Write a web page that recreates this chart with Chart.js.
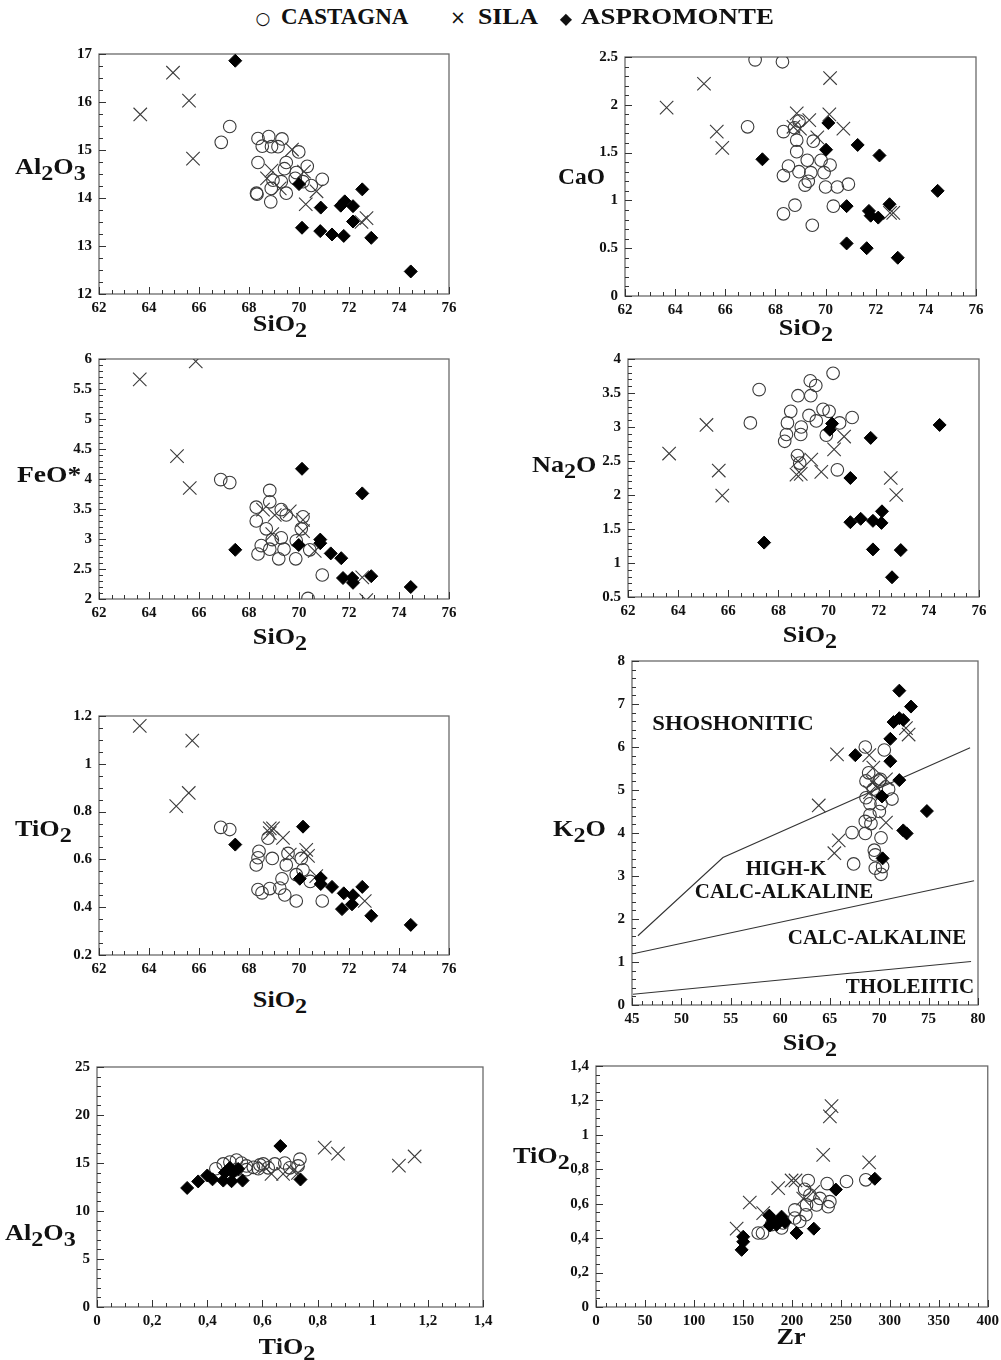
<!DOCTYPE html>
<html>
<head>
<meta charset="utf-8">
<script src="https://cdn.jsdelivr.net/npm/chart.js@4/dist/chart.umd.min.js"></script>
<style>
  html,body{margin:0;padding:0;background:#fff;}
  #page{position:relative;width:1001px;height:1360px;overflow:hidden;background:#fff;
        font-family:'Liberation Serif','Times New Roman',serif;color:#111;}
  .box{position:absolute;}
  .t{position:absolute;font-weight:bold;font-size:23px;white-space:nowrap;line-height:1;}
  .t sub{font-size:0.92em;vertical-align:-0.3em;line-height:0;}
  .lg{position:absolute;font-weight:bold;font-size:23px;white-space:nowrap;line-height:1;}
  .reg{position:absolute;font-weight:bold;font-size:21px;white-space:nowrap;line-height:1;transform:translate(-50%,-50%);}
</style>
</head>
<body>
<div id="page"></div>
<script>
// ---------------- DATA ----------------
const seriesNames = ['CASTAGNA', 'SILA', 'ASPROMONTE'];

// Panel 1: SiO2 vs Al2O3
const p1Castagna = [[66.89,15.16],[67.23,15.49],[68.36,15.24],[68.79,15.28],[69.32,15.23],[68.53,15.08],[68.9,15.07],[69.16,15.07],[69.99,14.96],[68.36,14.74],[69.49,14.74],[69.42,14.61],[69.89,14.53],[70.33,14.66],[68.96,14.37],[69.29,14.34],[69.85,14.41],[70.16,14.34],[70.49,14.26],[70.93,14.39],[68.32,14.08],[68.3,14.1],[68.89,14.2],[69.49,14.1],[68.87,13.92]];
const p1Sila = [[63.65,15.74],[64.96,16.61],[65.6,16.03],[65.76,14.82],[69.72,15.01],[68.9,14.57],[68.72,14.41],[69.23,14.2],[70.2,14.55],[70.7,14.14],[70.27,13.87],[72.7,13.58],[72.5,13.5]];
const p1Aspromonte = [[67.45,16.86],[70.0,14.29],[72.53,14.18],[70.87,13.8],[70.12,13.38],[70.85,13.31],[71.32,13.24],[71.79,13.21],[72.89,13.17],[71.67,13.84],[71.83,13.93],[72.16,13.83],[72.16,13.51],[74.47,12.47]];

// Panel 2: SiO2 vs CaO
const p2Castagna = [[67.19,2.47],[68.28,2.45],[66.89,1.77],[68.32,1.72],[68.76,1.76],[68.94,1.83],[68.85,1.63],[69.51,1.62],[68.85,1.51],[68.52,1.36],[69.27,1.42],[69.82,1.42],[70.18,1.37],[68.94,1.30],[69.41,1.29],[69.94,1.29],[68.32,1.26],[69.31,1.20],[69.18,1.16],[70.0,1.14],[70.47,1.14],[70.91,1.17],[70.31,0.94],[68.78,0.95],[68.32,0.86],[69.47,0.74]];
const p2Sila = [[63.66,1.97],[65.15,2.22],[65.66,1.72],[65.88,1.55],[70.18,2.28],[68.85,1.91],[70.15,1.90],[69.35,1.84],[68.98,1.75],[68.72,1.77],[69.67,1.66],[70.71,1.75],[72.57,0.87],[72.7,0.87]];
const p2Aspromonte = [[67.48,1.43],[70.11,1.81],[70.02,1.53],[71.28,1.58],[72.15,1.47],[70.84,0.94],[71.73,0.89],[71.8,0.84],[72.1,0.82],[72.55,0.96],[70.84,0.55],[71.64,0.50],[72.88,0.40],[74.47,1.10]];

// Panel 3: SiO2 vs FeO*
const p3Castagna = [[66.87,3.99],[67.23,3.94],[68.83,3.81],[68.83,3.62],[68.29,3.53],[69.29,3.49],[69.49,3.40],[70.16,3.37],[68.29,3.30],[68.69,3.17],[70.09,3.17],[69.29,3.02],[68.93,2.99],[69.89,2.97],[68.49,2.89],[68.36,2.75],[68.83,2.83],[69.4,2.83],[69.19,2.67],[69.87,2.67],[70.43,2.82],[70.93,2.40],[70.36,2.01]];
const p3Sila = [[63.63,5.66],[65.87,5.96],[65.12,4.38],[65.63,3.85],[68.56,3.49],[69.03,3.40],[69.63,3.46],[70.16,3.32],[70.16,3.13],[68.93,3.08],[70.63,2.80],[72.53,2.36],[72.69,1.98]];
const p3Aspromonte = [[70.12,4.17],[72.53,3.76],[67.45,2.82],[69.99,2.90],[70.85,2.99],[70.85,2.93],[71.27,2.76],[71.69,2.68],[71.76,2.35],[72.13,2.35],[72.16,2.27],[72.89,2.38],[74.47,2.20]];

// Panel 4: SiO2 vs Na2O
const p4Castagna = [[67.23,3.55],[66.88,3.06],[70.18,3.79],[69.27,3.68],[69.49,3.61],[68.78,3.46],[69.29,3.46],[68.49,3.23],[69.78,3.26],[70.02,3.23],[69.22,3.17],[69.51,3.09],[70.94,3.14],[70.44,3.06],[68.36,3.06],[68.91,3.0],[68.89,2.89],[69.91,2.88],[68.32,2.89],[68.25,2.79],[68.76,2.58],[68.85,2.47],[70.35,2.37]];
const p4Sila = [[63.64,2.61],[65.13,3.03],[65.62,2.36],[65.76,1.99],[68.72,2.30],[68.89,2.31],[68.78,2.50],[69.31,2.52],[69.71,2.34],[70.22,2.67],[70.62,2.86],[72.48,2.25],[72.7,2.0]];
const p4Aspromonte = [[74.43,3.03],[70.05,2.96],[70.14,3.05],[71.68,2.84],[70.87,2.25],[70.87,1.60],[71.28,1.65],[71.77,1.62],[72.13,1.76],[72.11,1.59],[71.77,1.20],[72.88,1.19],[72.53,0.79],[67.43,1.30]];

// Panel 5: SiO2 vs TiO2
const p5Castagna = [[66.87,0.734],[67.23,0.725],[68.76,0.689],[68.4,0.634],[68.36,0.607],[68.29,0.577],[68.93,0.604],[69.56,0.625],[69.49,0.577],[70.09,0.604],[70.16,0.556],[69.89,0.536],[69.32,0.519],[70.45,0.508],[68.83,0.478],[68.36,0.474],[68.52,0.46],[69.23,0.48],[69.43,0.451],[69.89,0.426],[70.93,0.426]];
const p5Sila = [[63.63,1.159],[65.73,1.097],[65.09,0.823],[65.59,0.878],[68.83,0.73],[68.96,0.73],[68.83,0.71],[69.36,0.69],[70.29,0.64],[70.36,0.615],[69.63,0.62],[70.69,0.53],[72.63,0.426]];
const p5Aspromonte = [[67.45,0.662],[70.16,0.737],[70.03,0.519],[70.87,0.522],[70.87,0.497],[71.32,0.485],[71.79,0.458],[72.16,0.45],[72.53,0.485],[71.72,0.392],[72.12,0.412],[72.89,0.364],[74.47,0.326]];

// Panel 6: SiO2 vs K2O
const p6Castagna = [[68.6,6.0],[70.52,5.93],[68.94,5.40],[70.12,5.25],[68.67,5.21],[70.02,5.21],[70.96,5.02],[69.41,5.02],[68.67,4.82],[71.3,4.79],[69.07,4.68],[70.19,4.68],[70.02,4.50],[69.07,4.42],[68.6,4.27],[69.17,4.22],[68.6,3.99],[67.26,4.01],[70.19,3.89],[69.51,3.60],[69.61,3.49],[67.42,3.28],[69.61,3.18],[70.35,3.22],[70.19,3.04]];
const p6Sila = [[65.74,5.83],[63.89,4.64],[65.91,3.83],[65.47,3.53],[69.0,5.81],[69.41,5.52],[69.34,5.18],[69.07,4.95],[69.78,5.06],[70.69,5.25],[70.69,4.24],[72.71,6.44],[72.98,6.29]];
const p6Aspromonte = [[72.04,7.31],[73.22,6.94],[71.46,6.58],[72.04,6.67],[72.44,6.63],[71.13,6.19],[71.13,5.67],[67.59,5.81],[72.04,5.23],[70.29,4.85],[74.83,4.51],[72.44,4.06],[72.78,3.99],[70.35,3.41]];
// classification boundaries (SiO2, K2O)
const boundShoshonitic = [[45.6,1.61],[54.2,3.43],[79.2,5.98]];
const boundHighK = [[45.1,1.19],[79.6,2.89]];
const boundTholeiitic = [[45.1,0.25],[79.3,1.01]];
const regionLabels = ['SHOSHONITIC', 'HIGH-K', 'CALC-ALKALINE', 'CALC-ALKALINE', 'THOLEIITIC'];

// Panel 7: TiO2 vs Al2O3
const p7Castagna = [[0.431,14.4],[0.458,14.9],[0.482,15.1],[0.506,15.3],[0.524,15.0],[0.542,14.7],[0.567,14.55],[0.585,14.4],[0.603,14.9],[0.621,14.5],[0.645,14.9],[0.681,15.0],[0.736,15.4],[0.729,14.7],[0.699,14.5],[0.542,14.3],[0.506,14.3],[0.591,14.8]];
const p7Sila = [[0.826,16.6],[0.874,15.98],[1.095,14.72],[1.152,15.68],[0.633,13.86],[0.675,13.86],[0.711,14.2],[0.729,13.97],[0.609,14.55]];
const p7Aspromonte = [[0.327,12.4],[0.367,13.08],[0.400,13.7],[0.419,13.3],[0.458,13.17],[0.488,13.1],[0.464,14.0],[0.494,14.0],[0.512,14.38],[0.528,13.17],[0.482,14.5],[0.665,16.77],[0.738,13.28]];

// Panel 8: Zr vs TiO2
const p8Castagna = [[216.7,0.735],[236,0.717],[255.8,0.729],[275.5,0.739],[213,0.684],[218.4,0.65],[228.6,0.631],[238.8,0.612],[237,0.583],[225.2,0.593],[215,0.593],[203,0.564],[214.3,0.536],[203,0.517],[208,0.497],[191,0.488],[179.3,0.479],[165.6,0.430],[170,0.43],[189.5,0.459]];
const p8Sila = [[240.5,1.167],[238.8,1.107],[232,0.884],[278.9,0.840],[199.7,0.735],[203.7,0.735],[186,0.691],[157,0.607],[170.7,0.545],[143.6,0.455],[211.6,0.63],[221.8,0.669]];
const p8Aspromonte = [[284.7,0.745],[244.9,0.682],[176.9,0.531],[180.9,0.500],[189.5,0.525],[184.4,0.478],[177.6,0.474],[192.9,0.493],[204.8,0.430],[222.4,0.455],[150.3,0.408],[150.3,0.379],[148.7,0.332]];

// ---------------- LAYOUT / STYLE ----------------
const page = document.getElementById('page');
const SERIF = "'Liberation Serif','Times New Roman',serif";
const YW = 60, PADT = 12, PADR = 16, XH = 30;

function toPts(arr){ return arr.map(p => ({x:p[0], y:p[1]})); }

function fmt(v, comma){
  let s = String(Number(v.toFixed(3)));
  return comma ? s.replace('.', ',') : s;
}

const framePlugin = {
  id: 'frame',
  beforeDatasetsDraw(chart, args, o) {
    const {ctx, chartArea: a, scales} = chart;
    ctx.save();
    ctx.strokeStyle = '#6a6a6a'; ctx.lineWidth = 1.3;
    ctx.strokeRect(a.left, a.top, a.right - a.left, a.bottom - a.top);
    ctx.strokeStyle = '#333'; ctx.lineWidth = 1;
    const xs = scales.x, ys = scales.y;
    const nx = Math.round((xs.max - xs.min) / o.xMinor);
    for (let i = 0; i <= nx; i++) {
      const v = xs.min + i * o.xMinor;
      const r = v / o.xMajor;
      const major = Math.abs(r - Math.round(r)) < 1e-6;
      const px = Math.round(xs.getPixelForValue(v)) + 0.5;
      ctx.beginPath(); ctx.moveTo(px, a.bottom); ctx.lineTo(px, a.bottom - (major ? 7 : 4)); ctx.stroke();
    }
    const ny = Math.round((ys.max - ys.min) / o.yMinor);
    for (let i = 0; i <= ny; i++) {
      const v = ys.min + i * o.yMinor;
      const r = v / o.yMajor;
      const major = Math.abs(r - Math.round(r)) < 1e-6;
      const py = Math.round(ys.getPixelForValue(v)) + 0.5;
      ctx.beginPath(); ctx.moveTo(a.left, py); ctx.lineTo(a.left + (major ? 7 : 4), py); ctx.stroke();
    }
    ctx.restore();
  }
};

function makePanel(cfg) {
  const w = (cfg.r - cfg.l) + YW + PADR;
  const h = (cfg.b - cfg.t) + PADT + XH;
  const div = document.createElement('div');
  div.className = 'box';
  div.style.left = (cfg.l - YW) + 'px';
  div.style.top = (cfg.t - PADT) + 'px';
  div.style.width = w + 'px';
  div.style.height = h + 'px';
  const cv = document.createElement('canvas');
  div.appendChild(cv);
  page.appendChild(div);

  const tickFont = {family: SERIF, weight: 'bold', size: 15};
  const datasets = [
    {label: seriesNames[2], data: toPts(cfg.asp), pointStyle: 'rectRot', pointRadius: 6.5,
     backgroundColor: '#000', borderColor: '#000', borderWidth: 1, order: 1},
    {label: seriesNames[1], data: toPts(cfg.sila), pointStyle: 'crossRot', pointRadius: 9.5,
     backgroundColor: 'rgba(0,0,0,0)', borderColor: '#3a3a3a', borderWidth: 1.1, order: 2},
    {label: seriesNames[0], data: toPts(cfg.cast), pointStyle: 'circle', pointRadius: 6.3,
     backgroundColor: 'rgba(0,0,0,0)', borderColor: '#3a3a3a', borderWidth: 1.1, order: 3}
  ];
  (cfg.lines || []).forEach(L => datasets.push({
    label: 'boundary', data: toPts(L), showLine: true, pointRadius: 0, borderColor: '#333',
    borderWidth: 1.1, fill: false, order: 4, tension: 0
  }));

  new Chart(cv, {
    type: 'scatter',
    data: {datasets},
    options: {
      responsive: true, maintainAspectRatio: false, animation: false,
      layout: {padding: {left: 0, top: PADT, right: PADR, bottom: 0}},
      plugins: {legend: {display: false}, tooltip: {enabled: false},
        frame: {xMinor: cfg.xMinor, xMajor: cfg.xStep, yMinor: cfg.yMinor, yMajor: cfg.yStep}},
      scales: {
        x: {type: 'linear', min: cfg.xMin, max: cfg.xMax,
            grid: {display: false, drawTicks: false, tickLength: 0}, border: {display: false},
            afterFit: s => { s.height = XH; },
            ticks: {stepSize: cfg.xStep, font: tickFont, color: '#111', padding: 5, maxRotation: 0,
                    autoSkip: false, callback: v => fmt(v, cfg.xComma)}},
        y: {type: 'linear', min: cfg.yMin, max: cfg.yMax,
            grid: {display: false, drawTicks: false, tickLength: 0}, border: {display: false},
            afterFit: s => { s.width = YW; },
            ticks: {stepSize: cfg.yStep, font: tickFont, color: '#111', padding: 7,
                    autoSkip: false, callback: v => fmt(v, cfg.yComma)}}
      }
    },
    plugins: [framePlugin]
  });
}

function addText(cls, html, x, y, anchor, extra) {
  const d = document.createElement('div');
  d.className = cls; d.innerHTML = html;
  d.style.left = x + 'px'; d.style.top = y + 'px';
  let tr = '';
  if (anchor === 'c') tr = 'translate(-50%,-50%)';
  if (anchor === 'l') tr = 'translate(0,-50%)';
  if (extra) tr += ' ' + extra;
  if (tr) d.style.transform = tr;
  if (anchor === 'l') d.style.transformOrigin = 'left center';
  page.appendChild(d);
  return d;
}

// Panels
makePanel({l:99, t:50, r:449, b:294, xMin:62, xMax:76, xStep:2, xMinor:0.5, yMin:12, yMax:17, yStep:1, yMinor:0.25,
  cast:p1Castagna, sila:p1Sila, asp:p1Aspromonte});
makePanel({l:625, t:53, r:976, b:296, xMin:62, xMax:76, xStep:2, xMinor:0.5, yMin:0, yMax:2.5, yStep:0.5, yMinor:0.1,
  cast:p2Castagna, sila:p2Sila, asp:p2Aspromonte});
makePanel({l:99, t:355, r:449, b:599, xMin:62, xMax:76, xStep:2, xMinor:0.5, yMin:2, yMax:6, yStep:0.5, yMinor:0.1,
  cast:p3Castagna, sila:p3Sila, asp:p3Aspromonte});
makePanel({l:628, t:355, r:979, b:597, xMin:62, xMax:76, xStep:2, xMinor:0.5, yMin:0.5, yMax:4, yStep:0.5, yMinor:0.1,
  cast:p4Castagna, sila:p4Sila, asp:p4Aspromonte});
makePanel({l:99, t:712, r:449, b:955, xMin:62, xMax:76, xStep:2, xMinor:0.5, yMin:0.2, yMax:1.2, yStep:0.2, yMinor:0.05,
  cast:p5Castagna, sila:p5Sila, asp:p5Aspromonte});
makePanel({l:632, t:657, r:978, b:1005, xMin:45, xMax:80, xStep:5, xMinor:1, yMin:0, yMax:8, yStep:1, yMinor:0.2,
  cast:p6Castagna, sila:p6Sila, asp:p6Aspromonte, lines:[boundShoshonitic, boundHighK, boundTholeiitic]});
makePanel({l:97, t:1063, r:483, b:1307, xMin:0, xMax:1.4, xStep:0.2, xMinor:0.05, yMin:0, yMax:25, yStep:5, yMinor:1,
  xComma:true, cast:p7Castagna, sila:p7Sila, asp:p7Aspromonte});
makePanel({l:596, t:1062, r:988, b:1307, xMin:0, xMax:400, xStep:50, xMinor:10, yMin:0, yMax:1.4, yStep:0.2, yMinor:0.05,
  yComma:true, cast:p8Castagna, sila:p8Sila, asp:p8Aspromonte});

// Axis titles
const SX = 'scaleX(1.14)';
addText('t', 'Al<sub>2</sub>O<sub>3</sub>', 15, 166, 'l', SX);
addText('t', 'SiO<sub>2</sub>', 280, 323, 'c', SX);
addText('t', 'CaO', 558, 176, 'l', 'scaleX(1.02)');
addText('t', 'SiO<sub>2</sub>', 806, 327, 'c', SX);
addText('t', 'FeO*', 17, 474, 'l', 'scaleX(1.2)');
addText('t', 'SiO<sub>2</sub>', 280, 636, 'c', SX);
addText('t', 'Na<sub>2</sub>O', 532, 464, 'l', SX);
addText('t', 'SiO<sub>2</sub>', 810, 634, 'c', SX);
addText('t', 'TiO<sub>2</sub>', 15, 828, 'l', SX);
addText('t', 'SiO<sub>2</sub>', 280, 999, 'c', SX);
addText('t', 'K<sub>2</sub>O', 553, 828, 'l', SX);
addText('t', 'SiO<sub>2</sub>', 810, 1042, 'c', SX);
addText('t', 'Al<sub>2</sub>O<sub>3</sub>', 5, 1232, 'l', SX);
addText('t', 'TiO<sub>2</sub>', 287, 1346, 'c', SX);
addText('t', 'TiO<sub>2</sub>', 513, 1155, 'l', SX);
addText('t', 'Zr', 791, 1336, 'c', SX);

// Region labels (K2O diagram)
addText('reg', regionLabels[0], 733, 723, null, 'translate(-50%,-50%) scaleX(1.08)');
addText('reg', regionLabels[1], 786, 868);
addText('reg', regionLabels[2], 784, 891);
addText('reg', regionLabels[3], 877, 937);
addText('reg', regionLabels[4], 910, 986);

// Legend
addText('lg', '<span style="font-weight:normal;font-family:DejaVu Sans;font-size:17px">○</span>', 263, 16, 'c');
addText('lg', seriesNames[0], 281, 16, 'l');
addText('lg', '<span style="font-weight:normal;font-family:DejaVu Sans;font-size:19px">×</span>', 458, 16, 'c');
addText('lg', seriesNames[1], 478, 16, 'l', 'scaleX(1.12)');
addText('lg', '<span style="font-family:DejaVu Sans;font-size:16px">◆</span>', 566, 16, 'c');
addText('lg', seriesNames[2], 581, 16, 'l', 'scaleX(1.17)');
</script>
</body>
</html>
